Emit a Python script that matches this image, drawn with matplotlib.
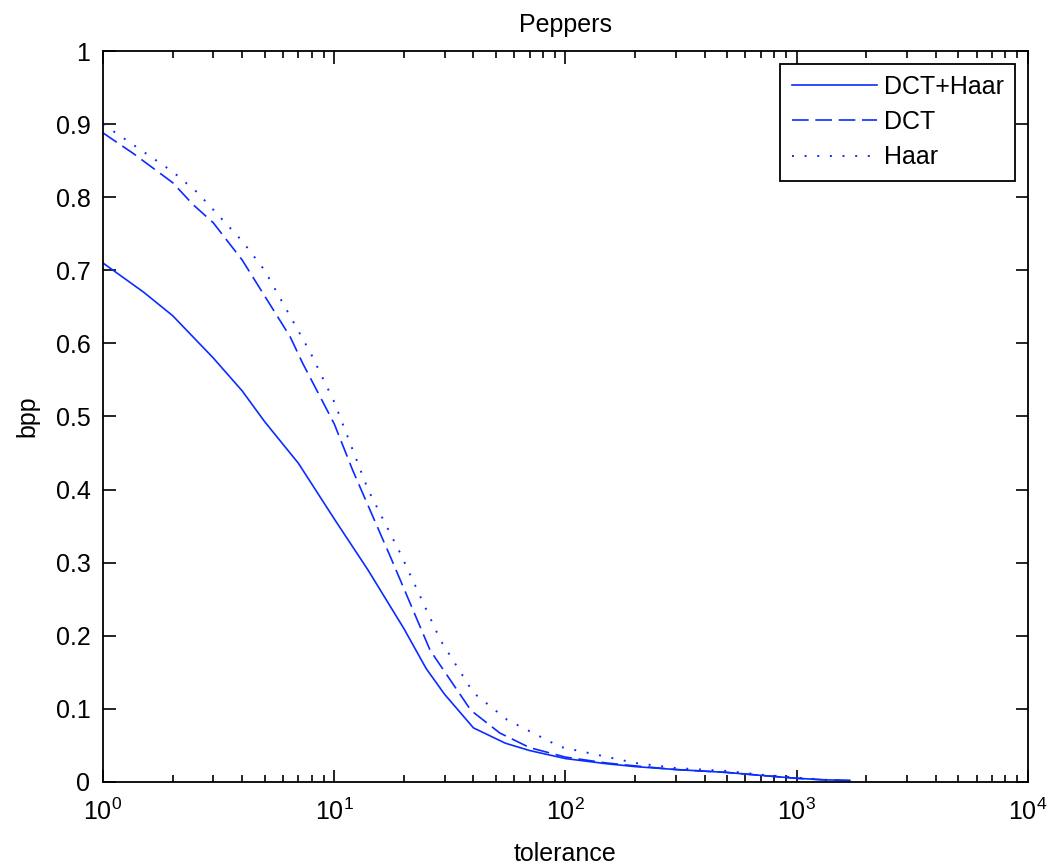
import matplotlib.pyplot as plt
from matplotlib.ticker import FixedLocator, LogLocator, NullFormatter

plt.rcParams['font.family'] = ['Liberation Sans', 'DejaVu Sans']

# DCT+Haar
tol_a = [1, 1.5, 2, 3, 4, 5, 7, 10, 14, 20, 25, 30, 40, 55, 70, 100,
         150, 200, 300, 500, 700, 1000, 1300, 1700]
bpp_a = [0.71, 0.67, 0.638, 0.58, 0.535, 0.493, 0.436, 0.36, 0.29, 0.21,
         0.155, 0.12, 0.074, 0.053, 0.043, 0.032, 0.025, 0.021, 0.017,
         0.013, 0.009, 0.005, 0.003, 0.002]

# DCT
tol_b = [1, 1.35, 2, 2.45, 3, 4, 5, 6.45, 7.3, 10, 12, 17.5, 26, 39, 52, 70,
         100, 150, 200, 300, 500, 700, 1000, 1300, 1700]
bpp_b = [0.888, 0.86, 0.82, 0.79, 0.765, 0.714, 0.665, 0.609, 0.573, 0.49,
         0.427, 0.308, 0.18, 0.098, 0.067, 0.047, 0.034, 0.026, 0.022,
         0.017, 0.013, 0.009, 0.005, 0.003, 0.002]

# Haar
tol_c = [1, 2, 2.55, 4, 5, 7, 7.9, 10, 14, 19.3, 28.8, 40, 56, 95, 200, 300,
         500, 700, 1000, 1300, 1700]
bpp_c = [0.90, 0.835, 0.807, 0.74, 0.70, 0.617, 0.587, 0.52, 0.40, 0.313,
         0.194, 0.122, 0.085, 0.048, 0.026, 0.019, 0.015, 0.01, 0.006,
         0.003, 0.002]

fs = 18

fig = plt.figure(figsize=(10.51, 8.65), dpi=100)
ax = fig.add_axes([0.098, 0.096, 0.880, 0.845])

ax.semilogx(tol_a, bpp_a, '-', color='#0a2cff', lw=1.2, label='DCT+Haar')
ax.semilogx(tol_b, bpp_b, '--', color='#0a2cff', lw=1.2, dashes=(10, 4), label='DCT')
ax.semilogx(tol_c, bpp_c, ':', color='#0a2cff', lw=1.4, dashes=(1, 5.5), label='Haar')

ax.set_xlim(1, 1e4)
ax.set_ylim(0, 1)
ax.yaxis.set_major_locator(FixedLocator([i / 10 for i in range(11)]))
ax.set_yticklabels(['0', '0.1', '0.2', '0.3', '0.4', '0.5', '0.6', '0.7',
                    '0.8', '0.9', '1'])
ax.xaxis.set_minor_locator(LogLocator(base=10, subs=range(2, 10)))
ax.xaxis.set_minor_formatter(NullFormatter())

ax.tick_params(which='both', direction='in', top=True, right=True,
               labelsize=fs, width=1.2)
ax.tick_params(which='major', length=9, pad=9)
ax.tick_params(axis='x', which='major', pad=12)
ax.tick_params(which='minor', length=5)
for s in ax.spines.values():
    s.set_linewidth(1.3)

ax.set_title('Peppers', fontsize=fs, pad=14)
ax.set_xlabel('tolerance', fontsize=fs, labelpad=12)
ax.set_ylabel('bpp', fontsize=fs, labelpad=12)

leg = ax.legend(loc='upper right', fontsize=fs, fancybox=False,
                edgecolor='black', framealpha=1, handlelength=3.4,
                borderaxespad=0.5, labelspacing=0.45, handletextpad=0.3,
                borderpad=0.45)
leg.get_frame().set_linewidth(1.3)

fig.savefig('out.png', dpi=100)
